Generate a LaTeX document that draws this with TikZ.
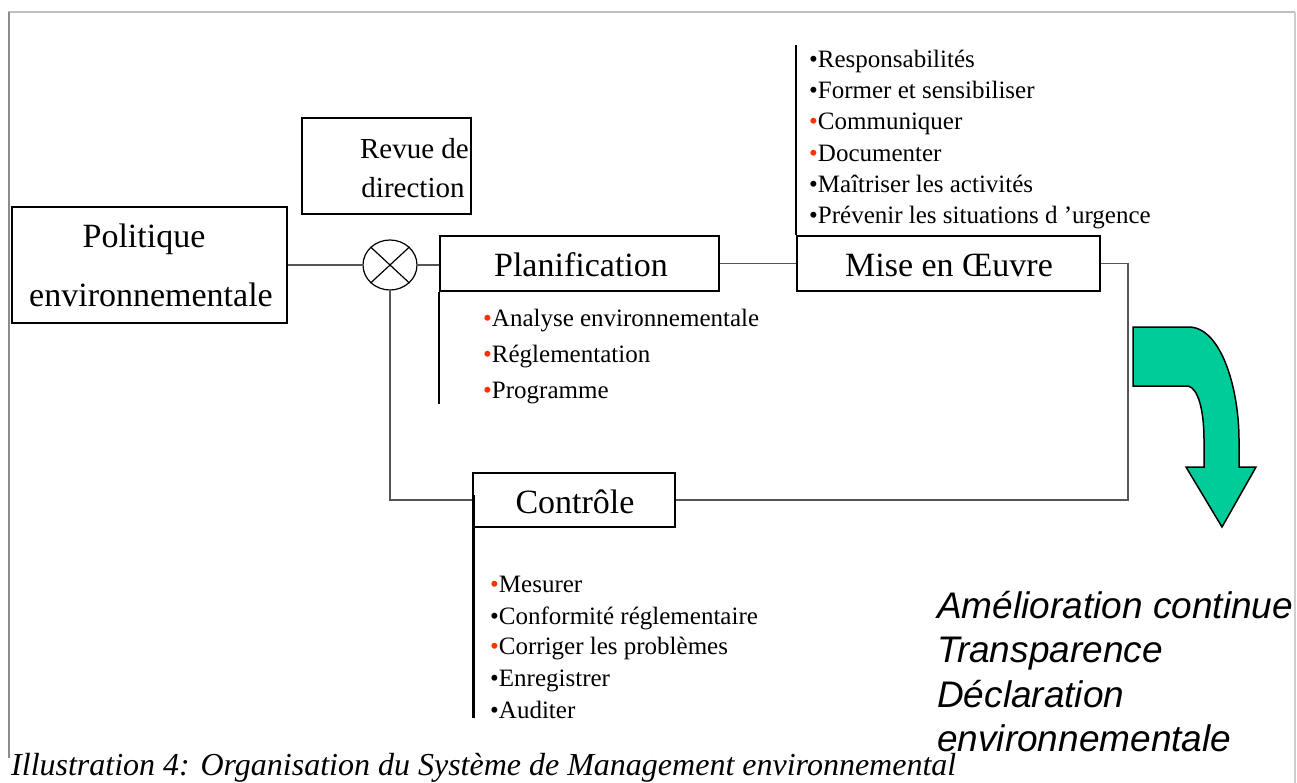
\documentclass[tikz,border=0pt]{standalone}
\usepackage{fontspec}
\setmainfont{Liberation Serif}
\setsansfont{Liberation Sans}
\usetikzlibrary{shapes.geometric}
\definecolor{bulred}{RGB}{255,51,0}
\definecolor{arrgreen}{RGB}{0,204,153}
\definecolor{connc}{RGB}{85,85,85}
\newcommand{\rbul}{\textcolor{bulred}{•}}
\newcommand{\kbul}{•}
\begin{document}
\begin{tikzpicture}[x=1pt,y=-1pt,
  box/.style={draw,line width=2pt,rectangle,inner sep=0pt},
  conn/.style={draw=connc,line width=1.2pt},
  listline/.style={draw=black,line width=2pt},
  title/.style={font=\fontsize{34}{40}\selectfont,inner sep=0pt,anchor=base},
  smalltitle/.style={font=\fontsize{29}{34}\selectfont,inner sep=0pt,anchor=base},
  item/.style={font=\fontsize{25}{30}\selectfont,inner sep=0pt,anchor=base west},
  result/.style={font=\sffamily\itshape\fontsize{37}{44}\selectfont,inner sep=0pt,anchor=base west},
  caption/.style={font=\itshape\fontsize{32}{38}\selectfont,inner sep=0pt,anchor=base west},
  frameline/.style={line width=1.5pt}
]
\useasboundingbox (0,0) rectangle (1297,783);
% frame
\draw[frameline,draw=black!25] (8,12) -- (1295,12);
\draw[frameline,draw=black!45] (9,12) -- (9,758);
\draw[frameline,draw=black!20] (1295,12) -- (1295,783);

% boxes
\node[box,minimum width=275pt,minimum height=116pt] (pol) at (149.5,265) {};
\node[box,minimum width=169pt,minimum height=96pt] (rev) at (386.5,166) {};
\node[draw,ellipse,line width=1.2pt,minimum width=54pt,minimum height=50pt,inner sep=0pt] (sum) at (390,265) {};
\draw[line width=1.2pt] (sum.north west) -- (sum.south east);
\draw[line width=1.2pt] (sum.north east) -- (sum.south west);
\node[box,minimum width=279pt,minimum height=55pt] (plan) at (579.5,263.5) {};
\node[box,minimum width=303pt,minimum height=55pt] (mise) at (948.5,263.5) {};
\node[box,minimum width=202pt,minimum height=54pt] (ctrl) at (574,500) {};

% titles
\node[title] (tpol1) at (144,248) {Politique};
\node[title] (tpol2) at (151,307) {environnementale};
\node[smalltitle] (trev1) at (414.5,159) {Revue de};
\node[smalltitle] (trev2) at (413,198) {direction};
\node[title] (tplan) at (581,277) {Planification};
\node[title] (tmise) at (949,277) {Mise en Œuvre};
\node[title] (tctrl) at (575,513) {Contrôle};

% connectors
\draw[conn] (pol.east) -- (sum.west);
\draw[conn] (sum.east) -- (sum.east -| plan.west);
\draw[conn] (sum.south) |- (ctrl.west);
\draw[conn] (plan.east) -- (mise.west);
\draw[conn] (mise.east) -- ++(27,0) |- (ctrl.east);

% list lines
\coordinate (planend) at (440,404);
\coordinate (miseend) at (797,45);
\coordinate (ctrlend) at (475,718);
\draw[listline] (plan.south west) -- (plan.south west |- planend);
\draw[listline] (mise.north west) -- (mise.north west |- miseend);
\draw[listline,line width=3pt] ([xshift=1pt,yshift=5pt]ctrl.west) -- ([xshift=1pt]ctrl.west |- ctrlend);

% planification items
\node[item] (p1) at (483,326) {\rbul Analyse environnementale};
\node[item] (p2) at (483,362) {\rbul Réglementation};
\node[item] (p3) at (483,398) {\rbul Programme};

% mise en oeuvre items
\node[item] (m1) at (809,68) {\kbul Responsabilités};
\node[item] (m2) at (809,99) {\kbul Former et sensibiliser};
\node[item] (m3) at (809,130) {\rbul Communiquer};
\node[item] (m4) at (809,162) {\rbul Documenter};
\node[item] (m5) at (809,193) {\kbul Maîtriser les activités};
\node[item] (m6) at (809,224) {\kbul Prévenir les situations d ’urgence};

% controle items
\node[item] (c1) at (490,592) {\rbul Mesurer};
\node[item] (c2) at (490,624) {\kbul Conformité réglementaire};
\node[item] (c3) at (490,654) {\rbul Corriger les problèmes};
\node[item] (c4) at (490,686) {\kbul Enregistrer};
\node[item] (c5) at (490,718) {\kbul Auditer};

% green curved arrow
\draw[fill=arrgreen,draw=black,line width=1.5pt,line join=miter]
  (1133,327) -- (1190,327)
  .. controls (1222,329) and (1239,390) .. (1239,440)
  -- (1239,467) -- (1256,467) -- (1222,527) -- (1186,467) -- (1204,467)
  -- (1204,440)
  .. controls (1204,410) and (1198,388) .. (1188,386)
  -- (1133,386) -- cycle;

% results
\node[result] (r1) at (937,618) {Amélioration continue};
\node[result] (r2) at (937,662) {Transparence};
\node[result] (r3) at (937,707) {Déclaration};
\node[result] (r4) at (937,751) {environnementale};

% caption
\node[caption] (cap) at (11,775) {Illustration 4: Organisation du Système de Management environnemental};
\end{tikzpicture}
\end{document}
